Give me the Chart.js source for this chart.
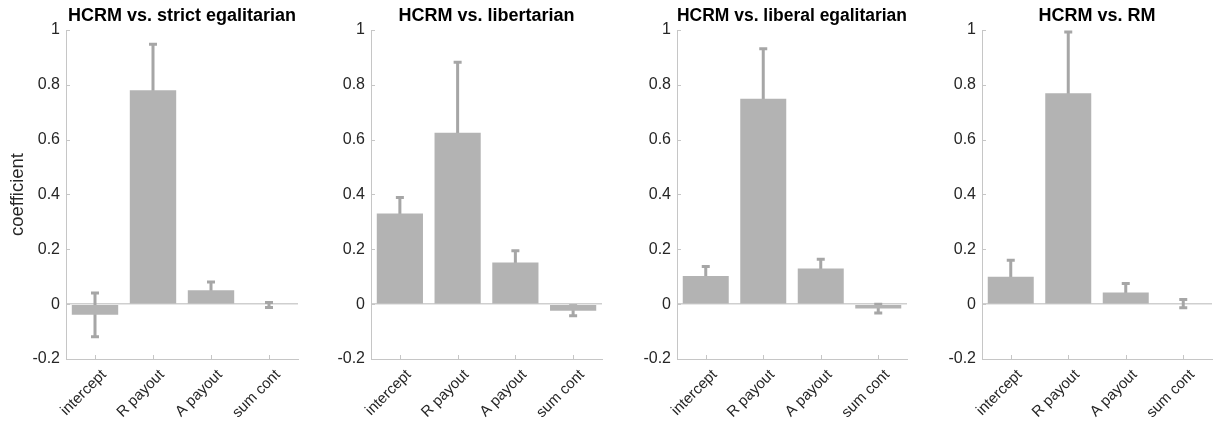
<!DOCTYPE html>
<html>
<head>
<meta charset="utf-8">
<script src="https://cdn.jsdelivr.net/npm/chart.js@4.4.1/dist/chart.umd.min.js"></script>
<style>
  html, body { margin: 0; padding: 0; background: #fff; }
  #wrap { position: relative; width: 1213px; height: 425px; }
  .panel { position: absolute; top: 0; height: 425px; }
</style>
</head>
<body>
<div id="wrap">
  <div class="panel" style="left:0px;width:300px"><canvas id="c0"></canvas></div>
  <div class="panel" style="left:305px;width:299px"><canvas id="c1"></canvas></div>
  <div class="panel" style="left:611px;width:298px"><canvas id="c2"></canvas></div>
  <div class="panel" style="left:916px;width:297px"><canvas id="c3"></canvas></div>
</div>
<script>
// categories and tick labels
const categories = ['intercept', 'R payout', 'A payout', 'sum cont'];
const yTicks = [-0.2, 0, 0.2, 0.4, 0.6, 0.8, 1];
const yTickLabels = ['-0.2', '0', '0.2', '0.4', '0.6', '0.8', '1'];
const titles = ['HCRM vs. strict egalitarian', 'HCRM vs. libertarian', 'HCRM vs. liberal egalitarian', 'HCRM vs. RM'];

// coefficients (bar heights) per comparison
const strictEgal = [-0.039, 0.78, 0.051, -0.003];
const libertarian = [0.331, 0.625, 0.152, -0.024];
const liberalEgal = [0.103, 0.749, 0.130, -0.016];
const rmModel = [0.100, 0.769, 0.043, 0.002];

// error bar half-lengths
const strictEgalErr = [0.080, 0.168, 0.030, 0.009];
const libertarianErr = [0.058, 0.257, 0.043, 0.018];
const liberalEgalErr = [0.034, 0.183, 0.034, 0.016];
const rmModelErr = [0.060, 0.224, 0.032, 0.015];

const values = [strictEgal, libertarian, liberalEgal, rmModel];
const errors = [strictEgalErr, libertarianErr, liberalEgalErr, rmModelErr];

const BAR = '#b3b3b3';
const ERR = '#a6a6a6';
const AXIS = '#c6c6c6';
const TEXT = '#262626';
const FONT = "'Liberation Sans', Arial, Helvetica, sans-serif";

/**
 * Error bars, drawn behind the bars (the part inside a bar is hidden)
 */
const errorBarPlugin = {
    id: 'errorBars',
    beforeDatasetsDraw(chart, args, opts) {
        const ctx = chart.ctx;
        const y = chart.scales.y;
        const meta = chart.getDatasetMeta(0);
        const vals = chart.data.datasets[0].data;
        ctx.save();
        ctx.strokeStyle = ERR;
        ctx.lineWidth = 3;
        meta.data.forEach((bar, i) => {
            const v = vals[i];
            const e = opts.err[i];
            const yTop = y.getPixelForValue(v + e);
            const yBot = y.getPixelForValue(v - e);
            ctx.beginPath();
            ctx.moveTo(bar.x, yTop);
            ctx.lineTo(bar.x, yBot);
            ctx.moveTo(bar.x - 4, yTop);
            ctx.lineTo(bar.x + 4, yTop);
            ctx.moveTo(bar.x - 4, yBot);
            ctx.lineTo(bar.x + 4, yBot);
            ctx.stroke();
        });
        ctx.restore();
    }
};

/**
 * Inward tick marks (MATLAB style)
 */
const innerTicksPlugin = {
    id: 'innerTicks',
    afterDraw(chart) {
        const ctx = chart.ctx;
        const { x, y } = chart.scales;
        const area = chart.chartArea;
        ctx.save();
        ctx.strokeStyle = AXIS;
        ctx.lineWidth = 1;
        ctx.beginPath();
        y.ticks.forEach(t => {
            const py = Math.round(y.getPixelForValue(t.value)) + 0.5;
            ctx.moveTo(area.left, py);
            ctx.lineTo(area.left + 4, py);
        });
        categories.forEach((c, i) => {
            const px = Math.round(x.getPixelForValue(i)) + 0.5;
            ctx.moveTo(px, area.bottom);
            ctx.lineTo(px, area.bottom - 4);
        });
        ctx.stroke();
        ctx.restore();
    }
};

function makeChart(idx) {
    const ctx = document.getElementById('c' + idx).getContext('2d');
    new Chart(ctx, {
        type: 'bar',
        data: {
            labels: categories,
            datasets: [{
                data: values[idx],
                backgroundColor: BAR,
                borderWidth: 0,
                barPercentage: 0.8,
                categoryPercentage: 1.0
            }]
        },
        options: {
            responsive: true,
            maintainAspectRatio: false,
            animation: false,
            events: [],
            layout: {
                padding: { left: 0, right: idx === 3 ? 1 : 2, top: 0, bottom: 0 }
            },
            plugins: {
                legend: { display: false },
                tooltip: { enabled: false },
                title: {
                    display: true,
                    text: titles[idx],
                    fullSize: false,
                    color: '#000',
                    font: { family: FONT, size: 18, weight: 'bold' },
                    padding: { top: 5, bottom: 3.4 }
                },
                errorBars: { err: errors[idx] }
            },
            scales: {
                x: {
                    grid: { display: false },
                    border: { display: true, color: AXIS, width: 1 },
                    ticks: {
                        color: TEXT,
                        font: { family: FONT, size: 15 },
                        minRotation: 45,
                        maxRotation: 45,
                        padding: -1,
                        labelOffset: 9
                    },
                    afterFit(scale) { scale.height = 66; }
                },
                y: {
                    min: -0.2,
                    max: 1,
                    afterBuildTicks(scale) {
                        scale.ticks = yTicks.map(v => ({ value: v }));
                    },
                    grid: {
                        drawTicks: false,
                        color: c => (c.tick && c.tick.value === 0) ? '#cfcfcf' : 'rgba(0,0,0,0)',
                        lineWidth: 1.5
                    },
                    border: { display: true, color: AXIS, width: 1 },
                    ticks: {
                        color: TEXT,
                        font: { family: FONT, size: 16 },
                        padding: 6,
                        callback: (v, i) => yTickLabels[i]
                    },
                    title: {
                        display: idx === 0,
                        text: 'coefficient',
                        color: TEXT,
                        font: { family: FONT, size: 18.5 },
                        padding: { top: 7, bottom: 0 }
                    },
                    afterFit(scale) { scale.width = 66; }
                }
            }
        },
        plugins: [errorBarPlugin, innerTicksPlugin]
    });
}

document.addEventListener('DOMContentLoaded', () => {
    for (let i = 0; i < 4; i++) makeChart(i);
});
</script>
</body>
</html>
